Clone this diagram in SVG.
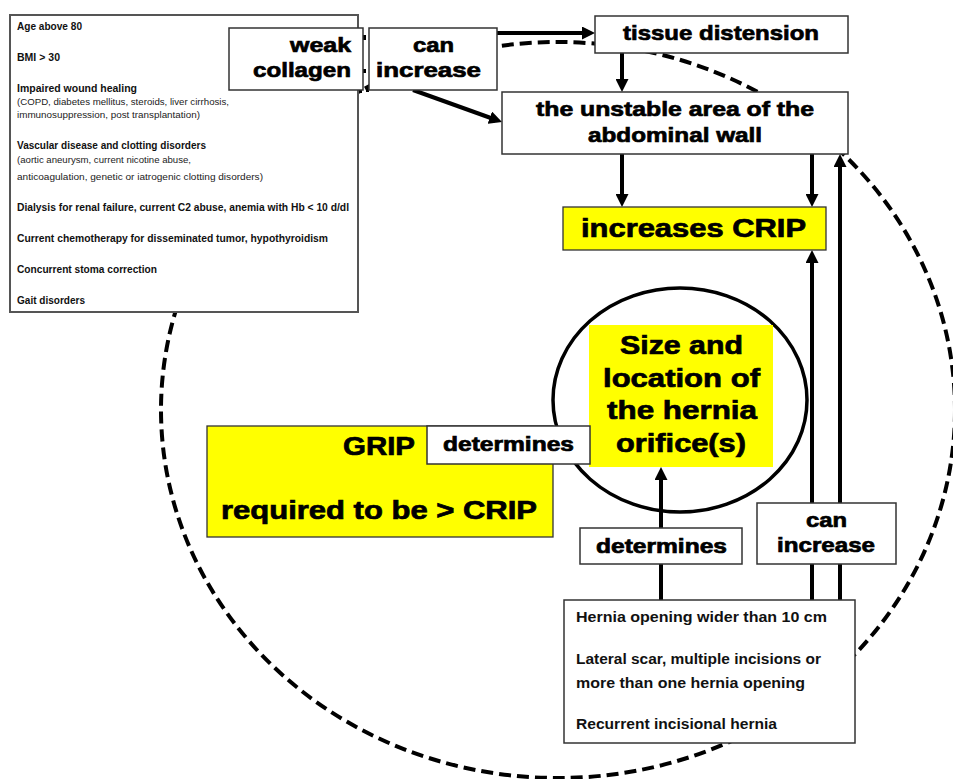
<svg xmlns="http://www.w3.org/2000/svg" width="953" height="779" viewBox="0 0 953 779">
<style>
.box{fill:#fff;stroke:#333;stroke-width:1.5}
.ybox{fill:#ffff00;stroke:#333;stroke-width:1.3}
.lbl{font-family:"Liberation Sans",Arial,sans-serif;font-weight:bold;fill:#000;stroke:#000;stroke-width:0.7}
.sm{font-family:"Liberation Sans",Arial,sans-serif;font-weight:bold;fill:#111;font-size:10.5px}
.sr{font-family:"Liberation Sans",Arial,sans-serif;fill:#222;font-size:9px}
.cn{font-family:"Liberation Sans",Arial,sans-serif;font-weight:bold;fill:#111;font-size:14.5px}
.ar{stroke:#000;stroke-width:4;fill:none;marker-end:url(#ah)}
</style>
<defs>
<marker id="ah" viewBox="0 0 13 13" refX="7" refY="6.5" markerWidth="13" markerHeight="13" markerUnits="userSpaceOnUse" orient="auto"><path d="M0,0 L13,6.5 L0,13 z" fill="#000"/></marker>
</defs>
<rect width="953" height="779" fill="#fff"/>
<g id="boundary">
<ellipse cx="558" cy="410" rx="397" ry="368" fill="none" stroke="#000" stroke-width="4" stroke-dasharray="12 6"/>
</g>
<g id="orifice-circle">
<ellipse cx="680" cy="400" rx="127" ry="112" fill="none" stroke="#000" stroke-width="3.5"/>
</g>
<g id="connectors">
<line class="ar" x1="497" y1="33" x2="589" y2="33"/>
<line class="ar" x1="413" y1="90" x2="496.4" y2="120"/>
<line class="ar" x1="622" y1="53" x2="622" y2="86"/>
<line class="ar" x1="622" y1="154" x2="622" y2="201"/>
<line class="ar" x1="812" y1="154" x2="812" y2="201"/>
<line class="ar" x1="812" y1="600" x2="812" y2="256"/>
<line class="ar" x1="840" y1="600" x2="840" y2="160"/>
<line class="ar" x1="661" y1="600" x2="661" y2="473"/>
<rect x="362" y="35" width="4" height="5" fill="#000"/>
<rect x="362" y="69" width="4" height="4" fill="#000"/>
<rect x="358" y="88" width="4" height="5" fill="#000"/>
<rect x="366" y="88" width="3" height="4" fill="#000"/>
</g>
<g id="risk-factors">
<rect x="10" y="15" width="348" height="297" fill="#fff" stroke="#555" stroke-width="2"/>
<text class="sm" x="17" y="30" textLength="65" lengthAdjust="spacingAndGlyphs">Age above 80</text>
<text class="sm" x="17" y="61" textLength="43" lengthAdjust="spacingAndGlyphs">BMI &gt; 30</text>
<text class="sm" x="17" y="92" textLength="120" lengthAdjust="spacingAndGlyphs">Impaired wound healing</text>
<text class="sr" x="17" y="105" textLength="212" lengthAdjust="spacingAndGlyphs">(COPD, diabetes mellitus, steroids, liver cirrhosis,</text>
<text class="sr" x="17" y="118" textLength="183" lengthAdjust="spacingAndGlyphs">immunosuppression, post transplantation)</text>
<text class="sm" x="17" y="149" textLength="189" lengthAdjust="spacingAndGlyphs">Vascular disease and clotting disorders</text>
<text class="sr" x="17" y="163" textLength="174" lengthAdjust="spacingAndGlyphs">(aortic aneurysm, current nicotine abuse,</text>
<text class="sr" x="17" y="180" textLength="246" lengthAdjust="spacingAndGlyphs">anticoagulation, genetic or iatrogenic clotting disorders)</text>
<text class="sm" x="17" y="211" textLength="332" lengthAdjust="spacingAndGlyphs">Dialysis for renal failure, current C2 abuse, anemia with Hb &lt; 10 d/dl</text>
<text class="sm" x="17" y="242" textLength="311" lengthAdjust="spacingAndGlyphs">Current chemotherapy for disseminated tumor, hypothyroidism</text>
<text class="sm" x="17" y="273" textLength="140" lengthAdjust="spacingAndGlyphs">Concurrent stoma correction</text>
<text class="sm" x="17" y="304" textLength="68" lengthAdjust="spacingAndGlyphs">Gait disorders</text>
</g>
<g id="weak-collagen">
<rect class="box" x="229" y="28" width="134" height="62"/>
<text class="lbl" font-size="21" x="290" y="52" textLength="61" lengthAdjust="spacingAndGlyphs">weak</text>
<text class="lbl" font-size="21" x="253" y="77" textLength="98" lengthAdjust="spacingAndGlyphs">collagen</text>
</g>
<g id="can-increase-top">
<rect class="box" x="369" y="28" width="128" height="62"/>
<text class="lbl" font-size="21" x="413" y="52" textLength="41" lengthAdjust="spacingAndGlyphs">can</text>
<text class="lbl" font-size="21" x="376" y="77" textLength="105" lengthAdjust="spacingAndGlyphs">increase</text>
</g>
<g id="tissue-distension">
<rect class="box" x="595" y="16" width="253" height="37"/>
<text class="lbl" font-size="21" x="623" y="40" textLength="196" lengthAdjust="spacingAndGlyphs">tissue distension</text>
</g>
<g id="unstable-area">
<rect class="box" x="502" y="92" width="346" height="62"/>
<text class="lbl" font-size="21" x="536" y="116" textLength="278" lengthAdjust="spacingAndGlyphs">the unstable area of the</text>
<text class="lbl" font-size="21" x="588" y="142" textLength="174" lengthAdjust="spacingAndGlyphs">abdominal wall</text>
</g>
<g id="increases-crip">
<rect class="ybox" x="563" y="207" width="263" height="43"/>
<text class="lbl" font-size="26" x="581" y="237" textLength="225" lengthAdjust="spacingAndGlyphs">increases CRIP</text>
</g>
<g id="hernia-orifice">
<rect x="589" y="325" width="184" height="142" fill="#ffff00"/>
<text class="lbl" font-size="26" x="620" y="354" textLength="123" lengthAdjust="spacingAndGlyphs">Size and</text>
<text class="lbl" font-size="26" x="603" y="387" textLength="157" lengthAdjust="spacingAndGlyphs">location of</text>
<text class="lbl" font-size="26" x="607" y="419" textLength="150" lengthAdjust="spacingAndGlyphs">the hernia</text>
<text class="lbl" font-size="26" x="616" y="452" textLength="130" lengthAdjust="spacingAndGlyphs">orifice(s)</text>
</g>
<g id="grip">
<rect class="ybox" x="207" y="426" width="346" height="111"/>
<text class="lbl" font-size="26" x="343" y="455" textLength="72" lengthAdjust="spacingAndGlyphs">GRIP</text>
<text class="lbl" font-size="26" x="221" y="519" textLength="316" lengthAdjust="spacingAndGlyphs">required to be &gt; CRIP</text>
</g>
<g id="determines-top">
<rect class="box" x="427" y="426" width="163" height="38"/>
<text class="lbl" font-size="20" x="443" y="451" textLength="131" lengthAdjust="spacingAndGlyphs">determines</text>
</g>
<g id="determines-bottom">
<rect class="box" x="580" y="528" width="162" height="36"/>
<text class="lbl" font-size="20" x="596" y="553" textLength="131" lengthAdjust="spacingAndGlyphs">determines</text>
</g>
<g id="can-increase-bottom">
<rect class="box" x="757" y="503" width="139" height="61"/>
<text class="lbl" font-size="21" x="806" y="527" textLength="41" lengthAdjust="spacingAndGlyphs">can</text>
<text class="lbl" font-size="21" x="777" y="552" textLength="98" lengthAdjust="spacingAndGlyphs">increase</text>
</g>
<g id="hernia-factors">
<rect class="box" x="564" y="600" width="291" height="143"/>
<text class="cn" x="576" y="622" textLength="251" lengthAdjust="spacingAndGlyphs">Hernia opening wider than 10 cm</text>
<text class="cn" x="576" y="664" textLength="245" lengthAdjust="spacingAndGlyphs">Lateral scar, multiple incisions or</text>
<text class="cn" x="576" y="688" textLength="229" lengthAdjust="spacingAndGlyphs">more than one hernia opening</text>
<text class="cn" x="576" y="729" textLength="201" lengthAdjust="spacingAndGlyphs">Recurrent incisional hernia</text>
</g>
</svg>
